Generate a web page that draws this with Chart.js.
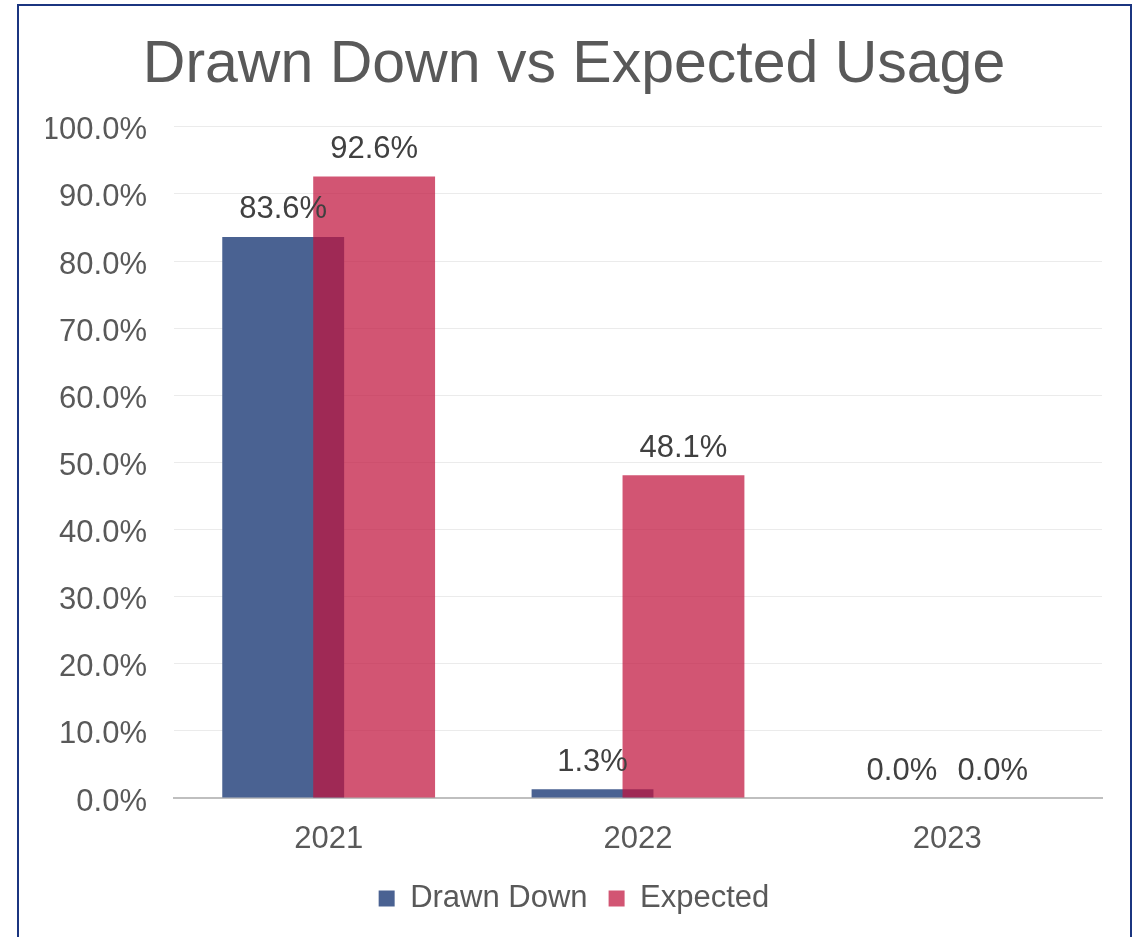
<!DOCTYPE html>
<html>
<head>
<meta charset="utf-8">
<script src="https://cdn.jsdelivr.net/npm/chart.js@4.4.1/dist/chart.umd.min.js"></script>
<style>
    body { margin: 0; background: #fff; }
    #wrap { position: relative; width: 1140px; height: 937px; overflow: hidden; }
    #frame { position: absolute; left: 17px; top: 4px; width: 1111px; height: 1000px; border: 2px solid #1b3580; pointer-events: none; }
    canvas { position: absolute; left: 0; top: 0; }
</style>
</head>
<body>
<div id="wrap">
    <canvas id="Chart1" width="1140" height="937"></canvas>
    <div id="frame"></div>
</div>
<script>
var years = ["2021", "2022", "2023"];
var drawnDown = [83.6, 1.3, 0.0];
var expected = [92.6, 48.1, 0.0];
var yTicks = { min: 0, max: 100, step: 10 };

var fontFamily = "'Liberation Sans', Arial, sans-serif";

// draw datasets first-to-last so Expected sits over Drawn Down
var drawOrder = {
    id: 'drawOrder',
    beforeDatasetsDraw: function (chart) {
        var metas = chart.getSortedVisibleDatasetMetas();
        for (var i = 0; i < metas.length; i++) {
            metas[i].controller.draw();
        }
        return false;
    }
};

var barLabels = {
    id: 'barLabels',
    afterDraw: function (chart) {
        var ctx = chart.ctx;
        ctx.save();
        ctx.font = '31px ' + fontFamily;
        ctx.fillStyle = '#404040';
        ctx.textAlign = 'center';
        ctx.textBaseline = 'middle';
        chart.data.datasets.forEach(function (ds, di) {
            var meta = chart.getDatasetMeta(di);
            meta.data.forEach(function (bar, i) {
                ctx.fillText(ds.data[i].toFixed(1) + '%', bar.x, bar.y - 27);
            });
        });
        ctx.restore();
    }
};

var ctx1 = document.getElementById("Chart1");
var crt1 = new Chart(ctx1, {
    type: 'bar',
    data: {
        labels: years,
        datasets: [{
            label: 'Drawn Down',
            backgroundColor: "rgba(74, 98, 146, 1)",
            data: drawnDown,
        }, {
            label: 'Expected',
            backgroundColor: "rgba(193, 20, 61, 0.72)",
            data: expected,
        }],
    },
    options: {
        responsive: false,
        animation: false,
        categoryPercentage: 0.588,
        barPercentage: 1.34,
        layout: {
            padding: { left: 46, right: 38, top: 0, bottom: 13 }
        },
        scales: {
            x: {
                grid: { display: false },
                border: { color: '#bfbfbf', width: 2 },
                afterFit: function (scale) { scale.height = 64; },
                ticks: {
                    color: '#595959',
                    padding: 15,
                    font: { family: fontFamily, size: 31 }
                }
            },
            y: {
                min: yTicks.min,
                max: yTicks.max,
                afterFit: function (scale) { scale.width = 128; },
                border: { display: false },
                grid: { color: '#ebebeb', lineWidth: 1, drawTicks: false },
                ticks: {
                    stepSize: yTicks.step,
                    color: '#595959',
                    padding: 27,
                    labelOffset: 4,
                    font: { family: fontFamily, size: 31 },
                    callback: function (value) {
                        return value.toFixed(1) + '%';
                    }
                }
            }
        },
        plugins: {
            title: {
                display: true,
                text: 'Drawn Down vs Expected Usage',
                color: '#595959',
                font: { family: fontFamily, size: 59, weight: 'normal' },
                padding: { top: 30, bottom: 26 }
            },
            legend: {
                position: 'bottom',
                labels: {
                    color: '#595959',
                    boxWidth: 16,
                    boxHeight: 16,
                    padding: 21,
                    font: { family: fontFamily, size: 31 }
                }
            },
            tooltip: { enabled: false }
        }
    },
    plugins: [drawOrder, barLabels]
});
</script>
</body>
</html>
